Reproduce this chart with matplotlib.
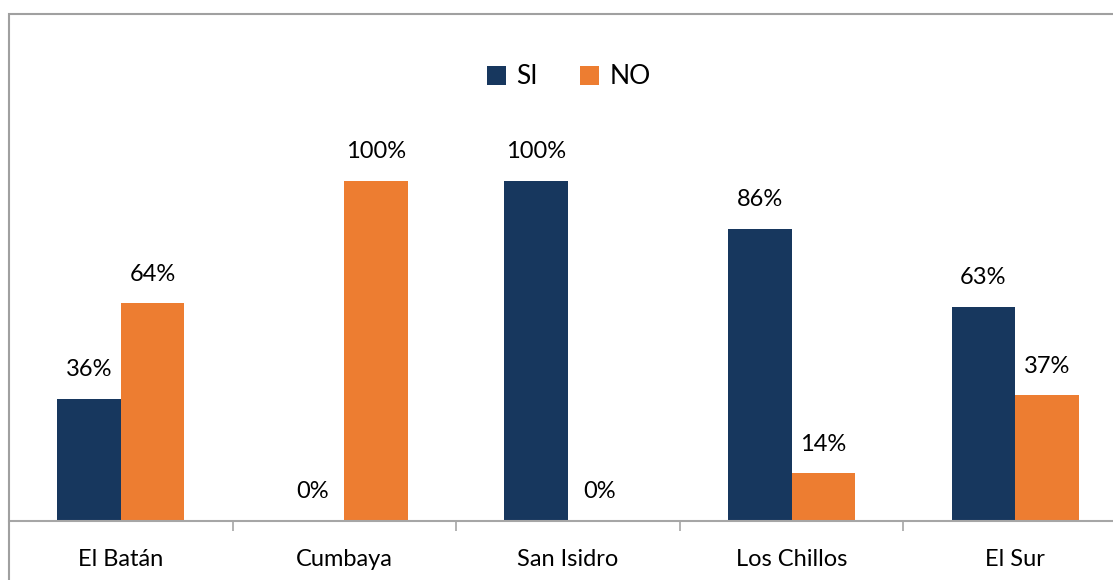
import matplotlib
matplotlib.use("Agg")
import matplotlib.pyplot as plt
from matplotlib.patches import Rectangle, Patch
import numpy as np

categories = ["El Batán", "Cumbaya", "San Isidro", "Los Chillos", "El Sur"]
si_values = [0.36, 0.0, 1.00, 0.86, 0.63]
no_values = [0.64, 1.00, 0.0, 0.14, 0.37]
series_names = ["SI", "NO"]
label_si = ["36%", "0%", "100%", "86%", "63%"]
label_no = ["64%", "100%", "0%", "14%", "37%"]

C_SI = "#17375E"
C_NO = "#ED7D31"
FONT = "Lato"
FS = 17

W, H = 1113, 580
fig = plt.figure(figsize=(W / 100, H / 100), dpi=100)

# plot area: x from 9 to 9+5*223.6 px, baseline at 521, 100% at 181
x0, x1 = 9, 9 + 5 * 223.6
yb, yt = 521, 181
ax = fig.add_axes([x0 / W, (H - yb) / H, (x1 - x0) / W, (yb - yt) / H])
ax.set_xlim(-0.5, len(categories) - 0.5)
ax.set_ylim(0, 1.0)
ax.set_clip_on(False)

bw = 0.284
x = np.arange(len(categories))
ax.bar(x - bw / 2, si_values, bw, color=C_SI, clip_on=False)
ax.bar(x + bw / 2, no_values, bw, color=C_NO, clip_on=False)

for i in range(len(categories)):
    ax.annotate(label_si[i], (x[i] - bw / 2, si_values[i]), xytext=(0, 29),
                textcoords="offset pixels", ha="center", va="center",
                fontsize=FS, family=FONT, color="#000000")
    ax.annotate(label_no[i], (x[i] + bw / 2, no_values[i]), xytext=(0, 29),
                textcoords="offset pixels", ha="center", va="center",
                fontsize=FS, family=FONT, color="#000000")

for s in ["top", "right", "left"]:
    ax.spines[s].set_visible(False)
ax.spines["bottom"].set_color("#A6A6A6")
ax.spines["bottom"].set_linewidth(1.5)
ax.set_yticks([])
ax.set_xticks(np.arange(-0.5, len(categories) + 0.5, 1.0))
ax.set_xticklabels([])
ax.tick_params(axis="x", length=7, width=1.2, color="#A6A6A6", direction="out")
ax.set_xticks(x, minor=True)
ax.set_xticklabels(categories, minor=True, fontsize=FS, family=FONT)
ax.tick_params(axis="x", which="minor", length=0, pad=20)

# legend
handles = [Patch(facecolor=C_SI, label=series_names[0]),
           Patch(facecolor=C_NO, label=series_names[1])]
fig.legend(handles=handles, loc="center", bbox_to_anchor=(569 / W, 1 - 77 / H),
           ncol=2, frameon=False, prop={"family": FONT, "size": 19},
           handlelength=0.7, handleheight=0.7, handletextpad=0.4, columnspacing=1.6)

# chart border
fig.add_artist(Rectangle((9 / W, -0.1), 1.2, 1.1 - 14 / H, transform=fig.transFigure,
                         fill=False, edgecolor="#A0A0A0", linewidth=1.5))

fig.savefig("out.png", dpi=100, facecolor="white")
